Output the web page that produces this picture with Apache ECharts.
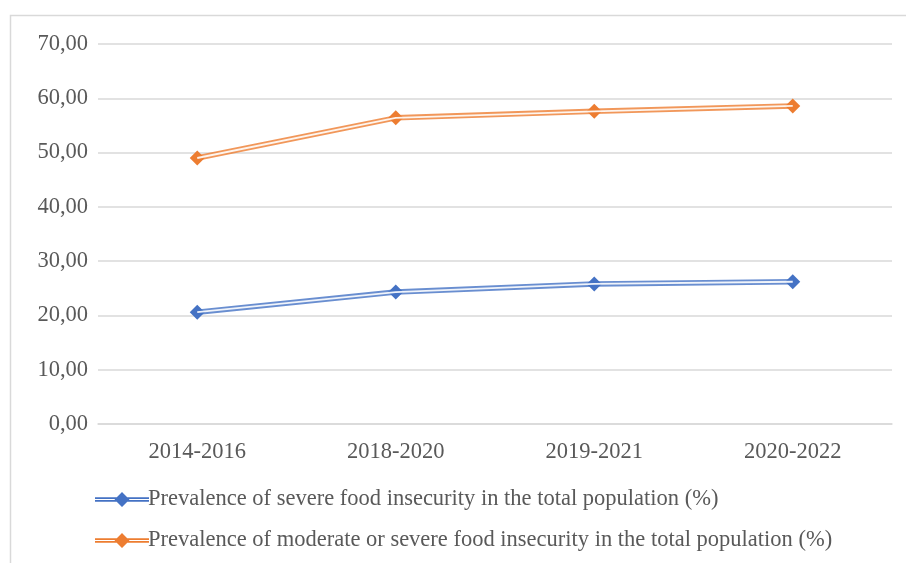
<!DOCTYPE html>
<html><head><meta charset="utf-8">
<script src="https://cdn.jsdelivr.net/npm/echarts@6/dist/echarts.min.js"></script>
<style>html,body{margin:0;padding:0;background:#fff}#c{width:906px;height:563px}</style>
</head><body><div id="c"></div>
<script>
const categories = ['2014-2016', '2018-2020', '2019-2021', '2020-2022'];
const severe = [20.6, 24.3, 25.8, 26.2];
const moderateOrSevere = [49.0, 56.4, 57.6, 58.6];
const severeName = 'Prevalence of severe food insecurity in the total population (%)';
const modName = 'Prevalence of moderate or severe food insecurity in the total population (%)';
const font = 'Liberation Serif';
const legendIcon = 'path://M0,5.2h54v1.7H0z M0,8.1h54v1.7H0z M27,0L34.5,7.5L27,15L19.5,7.5Z';
const chart = echarts.init(document.getElementById('c'));
function mainSeries(name, data, color) {
  return {name, type: 'line', data, symbol: 'diamond', symbolSize: 15, z: 3,
    itemStyle: {color}, lineStyle: {color, width: 5.5, opacity: 0.8}};
}
function innerSeries(name, data) {
  return {name, type: 'line', data, symbol: 'none', z: 4, silent: true,
    lineStyle: {color: '#fff', width: 1.8, opacity: 0.9}};
}
chart.setOption({
  animation: false,
  graphic: [{type: 'rect', shape: {x: 10.5, y: 15.5, width: 910, height: 570},
    style: {fill: 'none', stroke: '#d9d9d9', lineWidth: 1.5}, silent: true}],
  grid: {left: 98, right: 14, top: 44, bottom: 139},
  xAxis: {type: 'category', data: categories, boundaryGap: true,
    axisLine: {lineStyle: {color: '#d9d9d9', width: 1.5}}, axisTick: {show: false},
    axisLabel: {color: '#595959', fontFamily: font, fontSize: 22.5, margin: 17}},
  yAxis: {type: 'value', min: 0, max: 70, interval: 10,
    axisLine: {show: false}, axisTick: {show: false},
    splitLine: {lineStyle: {color: '#d9d9d9', width: 1.5}},
    axisLabel: {color: '#595959', fontFamily: font, fontSize: 22.5, margin: 10,
      formatter: v => v.toFixed(2).replace('.', ',')}},
  legend: {orient: 'vertical', left: 90, top: 483, itemGap: 18, itemWidth: 54, itemHeight: 15,
    data: [{name: severeName, icon: legendIcon}, {name: modName, icon: legendIcon}],
    textStyle: {color: '#595959', fontFamily: font, fontSize: 22.5, padding: [0, 0, 0, -6]}},
  series: [
    mainSeries(severeName, severe, '#4472c4'),
    innerSeries('s-inner', severe),
    mainSeries(modName, moderateOrSevere, '#ed7d31'),
    innerSeries('m-inner', moderateOrSevere)
  ]
});
</script></body></html>
